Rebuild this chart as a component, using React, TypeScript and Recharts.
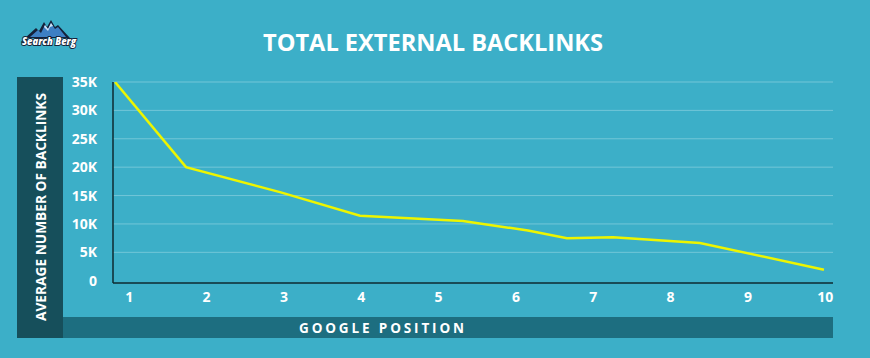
import React from 'react';
import { LineChart, Line, XAxis, YAxis, CartesianGrid } from 'recharts';

// Data
const positions = [0.816, 1.734, 2.949, 3.984, 5.315, 6.156, 6.66, 7.255, 8.38, 9.983];
const backlinks = [35000, 20000, 15600, 11450, 10500, 8850, 7470, 7640, 6660, 1950];
const xTicks = [1, 2, 3, 4, 5, 6, 7, 8, 9, 10];
const yTicks = [0, 5000, 10000, 15000, 20000, 25000, 30000, 35000];
const gridValues = [5000, 10000, 15000, 20000, 25000, 30000, 35000];
const titleText = 'TOTAL EXTERNAL BACKLINKS';
const xLabelText = 'GOOGLE POSITION';
const yLabelText = 'AVERAGE NUMBER OF BACKLINKS';
const logoText = 'Search Berg';

const data = positions.map((p, i) => ({ pos: p, value: backlinks[i] }));

const FONT = '"Open Sans", "Noto Sans", sans-serif';
const BG = '#3CAFC8';

const fmtY = (v: number) => (v === 0 ? '0' : `${v / 1000}K`);

export default function App() {
  return (
    <div style={{ position: 'absolute', left: 0, top: 0, width: 870, height: 358, background: BG, overflow: 'hidden' }}>
      <svg width={870} height={358} style={{ position: 'absolute', left: 0, top: 0 }}>
        {/* logo */}
        <g>
          <polygon points="25,38 36,28 39,31 44,22 47,27 51,20 55,27 58,25 70,38" fill="#14213a" />
          <polygon points="30,37 38,30 41,33 45,25 48,29 51,23 55,29 58,27 66,37" fill="#3d7fc4" />
          <polygon points="44,27 45,25 48,29 51,23 53,26 50,27 48,31" fill="#cfe3f5" />
          <text x={22} y={45} fontFamily={FONT} fontSize={10.5} fontStyle="italic" fontWeight={800}
            fill="#ffffff" stroke="#16233a" strokeWidth={2} paintOrder="stroke" textLength={54} lengthAdjust="spacingAndGlyphs">{logoText}</text>
        </g>
        {/* title */}
        <text x={433} y={51} textAnchor="middle" fontFamily={FONT} fontSize={24} fontWeight={700} fill="#ffffff"
          textLength={340} lengthAdjust="spacingAndGlyphs">{titleText}</text>
        {/* y label box */}
        <rect x={17} y={77} width={46} height={261} fill="#164F5B" />
        <text x={0} y={0} transform="translate(46,207) rotate(-90)" textAnchor="middle" fontFamily={FONT}
          fontSize={15} fontWeight={700} fill="#ffffff" textLength={228} lengthAdjust="spacingAndGlyphs">{yLabelText}</text>
        {/* x label bar */}
        <rect x={63} y={317} width={770} height={21} fill="#1D6E80" />
        <text x={381.5} y={333} textAnchor="middle" fontFamily={FONT} fontSize={13.5} fontWeight={700} fill="#ffffff"
          textLength={165} lengthAdjust="spacing">{xLabelText}</text>
      </svg>
      <div style={{ position: 'absolute', left: 0, top: 0 }}>
        <LineChart width={870} height={358} data={data} margin={{ top: 82, right: 37, left: 63, bottom: 45 }}>
          <CartesianGrid vertical={false} stroke="#72C6D8" strokeWidth={1} horizontalValues={gridValues} />
          <XAxis
            dataKey="pos"
            type="number"
            domain={[0.79, 10.1]}
            ticks={xTicks}
            allowDataOverflow
            height={30}
            tickLine={false}
            tickSize={0}
            tickMargin={9}
            axisLine={{ stroke: '#0E2A31', strokeWidth: 1.5 }}
            tick={{ fill: '#ffffff', fontSize: 14, fontWeight: 700, fontFamily: FONT }}
            interval={0}
          />
          <YAxis
            type="number"
            domain={[-400, 35000]}
            ticks={yTicks}
            allowDataOverflow
            width={50}
            tickLine={false}
            tickSize={0}
            tickMargin={16}
            tickFormatter={fmtY}
            axisLine={{ stroke: '#0E2A31', strokeWidth: 1.5 }}
            tick={{ fill: '#ffffff', fontSize: 14, fontWeight: 700, fontFamily: FONT }}
            interval={0}
          />
          <Line
            type="linear"
            dataKey="value"
            stroke="#EDF500"
            strokeWidth={2.5}
            dot={false}
            activeDot={false}
            isAnimationActive={false}
          />
        </LineChart>
      </div>
    </div>
  );
}
